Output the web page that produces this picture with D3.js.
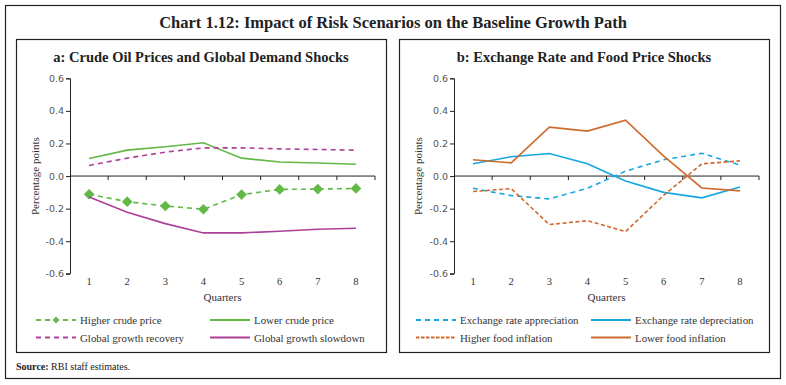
<!DOCTYPE html>
<html>
<head>
<meta charset="utf-8">
<script src="https://cdn.jsdelivr.net/npm/d3@7"></script>
<style>
  body { margin: 0; background: #fff; }
  svg { display: block; }
</style>
</head>
<body>
<div id="chart"></div>
<script>
const quarters = ['1', '2', '3', '4', '5', '6', '7', '8']
const yTicks = [-0.6, -0.4, -0.2, 0.0, 0.2, 0.4, 0.6]

// panel a
const higherCrude = [-0.112, -0.157, -0.184, -0.204, -0.114, -0.082, -0.080, -0.076]
const lowerCrude = [0.108, 0.159, 0.180, 0.204, 0.110, 0.086, 0.080, 0.072]
const growthRecovery = [0.065, 0.110, 0.147, 0.173, 0.173, 0.167, 0.163, 0.159]
const growthSlowdown = [-0.129, -0.222, -0.292, -0.349, -0.349, -0.339, -0.327, -0.320]

// panel b
const fxAppreciation = [-0.075, -0.120, -0.140, -0.075, 0.030, 0.100, 0.140, 0.067]
const fxDepreciation = [0.075, 0.118, 0.138, 0.075, -0.030, -0.100, -0.134, -0.067]
const higherFood = [-0.095, -0.077, -0.298, -0.274, -0.341, -0.118, 0.075, 0.093]
const lowerFood = [0.100, 0.081, 0.300, 0.276, 0.343, 0.122, -0.073, -0.091]

const green = '#62b946'
const purple = '#ad3f97'
const blue = '#15a7e0'
const orange = '#cf6a2c'
const serif = '"Liberation Serif", "DejaVu Serif", serif'
const sans = '"DejaVu Sans", Verdana, sans-serif'

const panels = [
  {
    title: 'a: Crude Oil Prices and Global Demand Shocks',
    box: [16, 39, 370, 313],
    plotX: 54,
    series: [
      { name: 'Higher crude price', values: higherCrude, color: green, dash: '5,4', marker: true },
      { name: 'Lower crude price', values: lowerCrude, color: green },
      { name: 'Global growth recovery', values: growthRecovery, color: purple, dash: '5,4' },
      { name: 'Global growth slowdown', values: growthSlowdown, color: purple }
    ],
    legendCols: [20, 194]
  },
  {
    title: 'b: Exchange Rate and Food Price Shocks',
    box: [399, 39, 370, 313],
    plotX: 55,
    series: [
      { name: 'Exchange rate appreciation', values: fxAppreciation, color: blue, dash: '5,4' },
      { name: 'Exchange rate depreciation', values: fxDepreciation, color: blue },
      { name: 'Higher food inflation', values: higherFood, color: orange, dash: '4,2.5' },
      { name: 'Lower food inflation', values: lowerFood, color: orange }
    ],
    legendCols: [17, 192]
  }
]

const W = 786
const H = 385

const svg = d3
  .select('#chart')
  .append('svg')
  .attr('width', W)
  .attr('height', H)

// outer frame
svg
  .append('rect')
  .attr('x', 5.5)
  .attr('y', 5.5)
  .attr('width', 775)
  .attr('height', 373)
  .attr('fill', 'none')
  .attr('stroke', '#222')
  .attr('stroke-width', 1.2)

svg
  .append('text')
  .attr('x', 393)
  .attr('y', 28)
  .attr('text-anchor', 'middle')
  .style('font-family', serif)
  .style('font-weight', 'bold')
  .style('font-size', '16.5px')
  .attr('fill', '#222')
  .text('Chart 1.12: Impact of Risk Scenarios on the Baseline Growth Path')

const source = svg
  .append('text')
  .attr('x', 16)
  .attr('y', 370)
  .style('font-family', serif)
  .style('font-size', '10px')
  .attr('fill', '#222')
source.append('tspan').style('font-weight', 'bold').text('Source: ')
source.append('tspan').text('RBI staff estimates.')

const plotTop = 39.3 // offset from panel top to y=0.6
const plotH = 195.5
const plotW = 305

const y = d3.scaleLinear().domain([-0.6, 0.6]).range([plotH, 0])
const x = d3.scaleBand().domain(quarters).range([0, plotW])

const fmt = d => d3.format('.1f')(d).replace('−', '-')

panels.forEach(p => {
  const [bx, by, bw, bh] = p.box
  const g = svg.append('g').attr('transform', `translate(${bx},${by})`)

  g.append('rect')
    .attr('x', 0.5)
    .attr('y', 0.5)
    .attr('width', bw)
    .attr('height', bh)
    .attr('fill', 'none')
    .attr('stroke', '#222')
    .attr('stroke-width', 1.2)

  g.append('text')
    .attr('x', bw / 2)
    .attr('y', 23)
    .attr('text-anchor', 'middle')
    .style('font-family', serif)
    .style('font-weight', 'bold')
    .style('font-size', '14.5px')
    .attr('fill', '#222')
    .text(p.title)

  const plot = g.append('g').attr('transform', `translate(${p.plotX},${plotTop})`)

  // y axis
  const yAxis = plot
    .append('g')
    .call(d3.axisLeft(y).tickValues(yTicks).tickSize(4).tickFormat(fmt))
  yAxis.select('.domain').attr('stroke', '#222').attr('d', `M-4,0.5H0.5V${plotH}H-4`)
  yAxis.selectAll('.tick line').attr('stroke', '#222')
  yAxis
    .selectAll('.tick text')
    .attr('x', -6)
    .style('font-family', sans)
    .style('font-size', '9.5px')
    .attr('fill', '#555')

  // x axis at zero
  plot
    .append('line')
    .attr('x1', 0)
    .attr('x2', plotW)
    .attr('y1', y(0))
    .attr('y2', y(0))
    .attr('stroke', '#222')
    .attr('stroke-width', 1)

  plot
    .selectAll('.xtick')
    .data(quarters)
    .enter()
    .append('line')
    .attr('x1', d => x(d) + x.bandwidth())
    .attr('x2', d => x(d) + x.bandwidth())
    .attr('y1', y(0))
    .attr('y2', y(0) + 4)
    .attr('stroke', '#222')

  plot
    .selectAll('.xlabel')
    .data(quarters)
    .enter()
    .append('text')
    .attr('x', d => x(d) + x.bandwidth() / 2)
    .attr('y', plotH + 11)
    .attr('text-anchor', 'middle')
    .style('font-family', serif)
    .style('font-size', '10.5px')
    .attr('fill', '#333')
    .text(d => d)

  plot
    .append('text')
    .attr('x', plotW / 2)
    .attr('y', plotH + 27)
    .attr('text-anchor', 'middle')
    .style('font-family', serif)
    .style('font-size', '11px')
    .attr('fill', '#333')
    .text('Quarters')

  plot
    .append('text')
    .attr('transform', `translate(${-p.plotX + 23},${plotH / 2}) rotate(-90)`)
    .attr('text-anchor', 'middle')
    .style('font-family', serif)
    .style('font-size', '11px')
    .attr('fill', '#333')
    .text('Percentage points')

  const line = d3
    .line()
    .x((d, i) => x(quarters[i]) + x.bandwidth() / 2)
    .y(d => y(d))

  p.series.forEach(s => {
    plot
      .append('path')
      .datum(s.values)
      .attr('d', line)
      .attr('fill', 'none')
      .attr('stroke', s.color)
      .attr('stroke-width', 1.6)
      .attr('stroke-dasharray', s.dash || null)

    if (s.marker) {
      plot
        .selectAll('.marker')
        .data(s.values)
        .enter()
        .append('path')
        .attr('d', d3.symbol().type(d3.symbolDiamond2).size(72))
        .attr('transform', (d, i) => `translate(${x(quarters[i]) + x.bandwidth() / 2},${y(d)})`)
        .attr('fill', s.color)
    }
  })

  // legend
  const legend = g.append('g').attr('transform', `translate(0,${281})`)
  p.series.forEach((s, i) => {
    const lx = p.legendCols[i % 2]
    const ly = Math.floor(i / 2) * 17.5
    const item = legend.append('g').attr('transform', `translate(${lx},${ly})`)
    item
      .append('line')
      .attr('x1', 0)
      .attr('x2', 40)
      .attr('y1', 0)
      .attr('y2', 0)
      .attr('stroke', s.color)
      .attr('stroke-width', 2.2)
      .attr('stroke-dasharray', s.dash ? (s.color === orange ? '3.5,1.5' : '5,4') : null)
    if (s.marker) {
      item
        .append('path')
        .attr('d', d3.symbol().type(d3.symbolDiamond2).size(30))
        .attr('transform', 'translate(20,0)')
        .attr('fill', s.color)
    }
    item
      .append('text')
      .attr('x', 44)
      .attr('y', 4)
      .style('font-family', serif)
      .style('font-size', '10.9px')
      .attr('fill', '#333')
      .text(s.name)
  })
})
</script>
</body>
</html>
